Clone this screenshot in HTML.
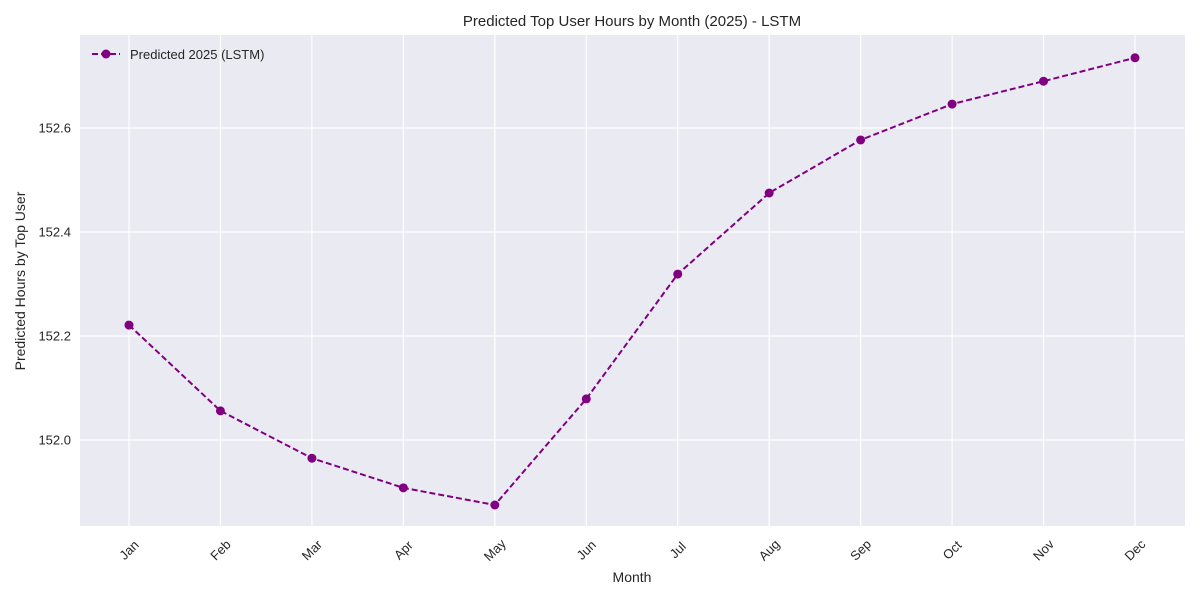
<!DOCTYPE html>
<html><head><meta charset="utf-8"><style>
body{margin:0;background:#fff;font-family:"Liberation Sans",sans-serif;}
svg text{font-family:"Liberation Sans",sans-serif;fill:#262626;}
</style></head><body>
<svg id="chart" width="1200" height="600">
<rect x="80" y="35" width="1105" height="491" fill="#eaeaf2"/>
<g id="grid"></g><g id="series"></g><g id="ticks"></g>
<text x="632" y="26" text-anchor="middle" font-size="15">Predicted Top User Hours by Month (2025) - LSTM</text>
<text x="632" y="582" text-anchor="middle" font-size="14">Month</text>
<text transform="translate(25,281) rotate(-90)" text-anchor="middle" font-size="14">Predicted Hours by Top User</text>
<g>
<line x1="92" y1="54" x2="120" y2="54" stroke="#800080" stroke-width="2" stroke-dasharray="6,3"/>
<circle cx="106" cy="54" r="4.5" fill="#800080"/>
<text x="130" y="59" font-size="13">Predicted 2025 (LSTM)</text></g>
</svg>
<script>
const months=["Jan","Feb","Mar","Apr","May","Jun","Jul","Aug","Sep","Oct","Nov","Dec"];
const values=[152.221,152.056,151.965,151.908,151.875,152.079,152.319,152.475,152.577,152.646,152.690,152.735];
const yTicks=[152.0,152.2,152.4,152.6];
const NS="http://www.w3.org/2000/svg";
const xs=i=>129+i*(1135-129)/11;
const ys=v=>440-(v-152)*520;
function mk(t,a,p){const e=document.createElementNS(NS,t);for(const k in a)e.setAttribute(k,a[k]);p.appendChild(e);return e;}
const g=document.getElementById('grid'),s=document.getElementById('series'),tk=document.getElementById('ticks');
months.forEach((m,i)=>{
 const l=mk('line',{x1:xs(i),x2:xs(i),y1:35,y2:526,stroke:'#fff','stroke-width':1.2},g);
 
 
 const cx=xs(i),cy=550;
 const t=mk('text',{x:cx,y:cy+4.5,'font-size':13,'text-anchor':'middle',transform:`rotate(-45 ${cx} ${cy})`},tk);
 t.textContent=m;
 
 
});
yTicks.forEach(v=>{
 const l=mk('line',{x1:80,x2:1185,y1:ys(v),y2:ys(v),stroke:'#fff','stroke-width':1.2},g);
 
 
 const t=mk('text',{x:71,y:ys(v)+4.5,'font-size':13,'text-anchor':'end'},tk);
 t.textContent=v.toFixed(1);
 
 
});
const p=mk('polyline',{points:values.map((v,i)=>xs(i)+','+ys(v)).join(' '),fill:'none',stroke:'#800080','stroke-width':2,'stroke-dasharray':'6,3'},s);


values.forEach((v,i)=>{
 const c=mk('circle',{cx:xs(i),cy:ys(v),r:4.5,fill:'#800080'},s);
 
 
});
</script>
</body></html>
